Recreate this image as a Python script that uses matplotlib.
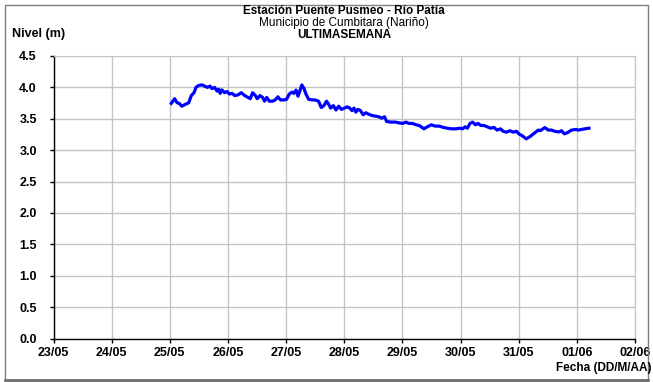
import numpy as np
import pandas as pd
import matplotlib
matplotlib.use("Agg")
import matplotlib.pyplot as plt
import matplotlib.dates as mdates
from matplotlib.patches import Rectangle
from matplotlib.lines import Line2D

plt.rcParams['font.family'] = ['Liberation Sans', 'DejaVu Sans']

# Hourly-ish readings, hours counted from 25/05 00:00
horas = [0.6, 2.0, 3.0, 3.9, 5.0, 6.4, 7.8, 8.9, 10.0, 10.8, 11.9, 13.3, 14.4, 15.5,
         16.6, 17.4, 18.5, 19.5, 20.2, 20.8, 21.5, 22.6, 23.6, 24.6, 25.7, 26.8,
         28.1, 29.5, 30.9, 32.3, 33.2, 34.2, 35.3, 36.1, 37.2, 38.3, 39.1, 40.0,
         41.1, 42.4, 43.5, 44.6, 45.7, 47.1, 48.2, 49.3, 50.4, 51.2, 52.1, 52.9,
         53.7, 54.5, 55.4, 56.2, 57.3, 58.7, 60.0, 61.4, 62.5, 63.6, 64.7, 65.5,
         66.4, 67.5, 68.6, 69.7, 70.8, 72.1, 73.2, 74.3, 75.2, 76.0, 76.8, 77.6,
         78.7, 79.8, 80.9, 82.0, 83.4, 84.8, 86.2, 87.5, 88.6, 89.5, 91.1, 93.1,
         94.4, 96.1, 97.5, 98.6, 100.2, 101.6, 102.9, 104.9, 106.3, 107.9, 109.6,
         111.2, 112.9, 114.5, 116.2, 118.1, 119.7, 120.8, 121.9, 122.8, 123.9,
         125.0, 126.1, 127.2, 128.3, 129.6, 131.0, 132.4, 133.8, 135.1, 136.5,
         137.6, 139.0, 140.4, 141.7, 143.1, 144.2, 145.3, 147.1, 148.8, 150.4,
         152.1, 152.9, 154.8, 156.2, 157.6, 158.9, 160.6, 161.7, 162.8, 164.2,
         165.8, 167.5, 168.6, 169.9, 171.3, 173.0]
nivel = [3.745, 3.82, 3.755, 3.745, 3.70, 3.73, 3.755, 3.87, 3.915, 4.00, 4.03, 4.04,
         4.02, 4.00, 4.02, 3.98, 4.00, 3.94, 3.97, 3.905, 3.96, 3.915, 3.935, 3.894,
         3.905, 3.87, 3.88, 3.915, 3.87, 3.84, 3.82, 3.915, 3.87, 3.82, 3.87, 3.84,
         3.78, 3.84, 3.78, 3.78, 3.80, 3.85, 3.80, 3.80, 3.81, 3.894, 3.925, 3.905,
         3.957, 3.86, 3.947, 4.04, 3.98, 3.894, 3.81, 3.80, 3.80, 3.78, 3.68, 3.71,
         3.78, 3.734, 3.67, 3.71, 3.64, 3.70, 3.65, 3.67, 3.69, 3.67, 3.63, 3.67,
         3.606, 3.65, 3.63, 3.564, 3.596, 3.574, 3.553, 3.543, 3.532, 3.51, 3.532,
         3.457, 3.447, 3.447, 3.436, 3.426, 3.447, 3.426, 3.426, 3.404, 3.394, 3.34,
         3.372, 3.404, 3.383, 3.383, 3.362, 3.35, 3.34, 3.34, 3.35, 3.34, 3.372,
         3.35, 3.426, 3.447, 3.404, 3.426, 3.394, 3.394, 3.372, 3.35, 3.362, 3.32,
         3.34, 3.30, 3.287, 3.31, 3.287, 3.30, 3.255, 3.234, 3.18, 3.22, 3.27, 3.32,
         3.31, 3.36, 3.32, 3.32, 3.30, 3.29, 3.31, 3.26, 3.28, 3.32, 3.33, 3.32,
         3.33, 3.34, 3.35]

inicio = pd.Timestamp("2024-05-25")
fechas = inicio + pd.to_timedelta(horas, unit="h")

W, H = 653, 382
fig = plt.figure(figsize=(W / 100, H / 100), dpi=100)
ax = fig.add_axes([53.5 / W, 1 - 338.5 / H, (635 - 53.5) / W, (338.5 - 56) / H])

ax.plot(fechas, nivel, color='#0000FF', linewidth=2.3, solid_joinstyle='round')

ax.set_xlim(pd.Timestamp("2024-05-23"), pd.Timestamp("2024-06-02"))
ax.set_ylim(0, 4.5)
ax.set_yticks(np.arange(0, 4.51, 0.5))
ax.xaxis.set_major_locator(mdates.DayLocator())
ax.xaxis.set_major_formatter(mdates.DateFormatter('%d/%m'))

grid_c = '#c4c4c4'
ax.grid(True, color=grid_c, linewidth=1.0)
ax.set_axisbelow(True)
for s in ('top', 'right'):
    ax.spines[s].set_color(grid_c)
for s in ('left', 'bottom'):
    ax.spines[s].set_color('black')
    ax.spines[s].set_linewidth(1.0)

ax.tick_params(axis='both', direction='out', length=3, width=1, color='black')
ax.tick_params(axis='y', pad=9)
ax.tick_params(axis='x', pad=3)
for lbl in ax.get_xticklabels():
    lbl.set_fontsize(9)
    lbl.set_fontweight('bold')
for lbl in ax.get_yticklabels():
    lbl.set_fontsize(9)
    lbl.set_fontweight('bold')
ax.yaxis.set_major_formatter(matplotlib.ticker.FormatStrFormatter('%.1f'))

cx = (53.5 + 635) / 2 / W
fig.text(cx, 1 - 11 / H, "Estación Puente Pusmeo - Río Patía", ha='center', va='center',
         fontsize=8.5, fontweight='bold')
fig.text(cx, 1 - 23 / H, "Municipio de Cumbitara (Nariño)", ha='center', va='center',
         fontsize=8.5)
fig.text(cx, 1 - 35 / H, "ULTIMASEMANA", ha='center', va='center',
         fontsize=8.5, fontweight='bold')
fig.text(12 / W, 1 - 34 / H, "Nivel (m)", ha='left', va='center',
         fontsize=9, fontweight='bold')
fig.text(651 / W, 1 - 368 / H, "Fecha (DD/M/AA)", ha='right', va='center',
         fontsize=8.5, fontweight='bold')

# outer frame with a darker bottom edge
fig.patches.append(Rectangle((5 / W, 1 - 380 / H), 643 / W, 375 / H, transform=fig.transFigure,
                             fill=False, edgecolor='#7f7f7f', linewidth=1.0))
fig.lines.append(Line2D([5 / W, 648 / W], [1 - 380 / H, 1 - 380 / H], transform=fig.transFigure,
                        color='#6e6e6e', linewidth=2.0))

fig.savefig("out.png", dpi=100)
